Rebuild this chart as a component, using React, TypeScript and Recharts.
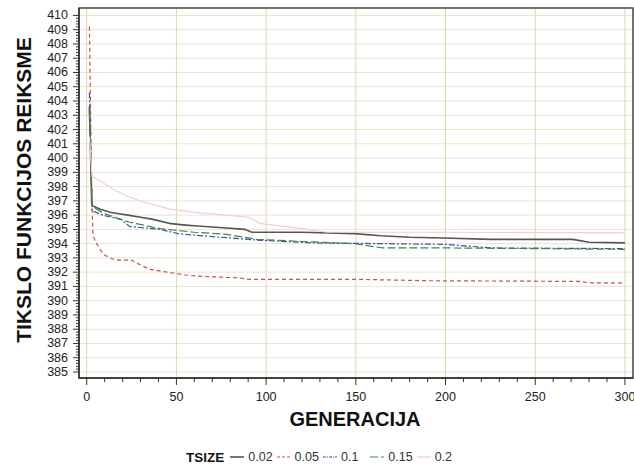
import { LineChart, Line, CartesianGrid, XAxis, YAxis, ReferenceArea } from 'recharts';

// generations / best fitness per tournament size
const gen002 = [1.5, 2.8, 4, 8, 13, 18, 23, 30, 37, 47, 55, 60, 78, 88, 92, 120, 149, 164, 180, 199, 225, 271, 280, 300];
const fit002 = [403.6, 396.7, 396.6, 396.4, 396.2, 396.1, 396.0, 395.85, 395.7, 395.4, 395.3, 395.25, 395.1, 395.0, 394.8, 394.8, 394.7, 394.55, 394.45, 394.4, 394.3, 394.3, 394.1, 394.05];

const gen005 = [1.5, 2.5, 3, 3.5, 5, 6.5, 8, 10, 13, 16, 25, 30, 35, 45, 55, 65, 85, 90, 150, 190, 275, 280, 300];
const fit005 = [409.2, 400, 396.5, 394.6, 394.1, 393.8, 393.5, 393.2, 393.0, 392.85, 392.85, 392.5, 392.2, 392.0, 391.8, 391.7, 391.6, 391.5, 391.5, 391.4, 391.35, 391.25, 391.25];

const gen01 = [1.5, 3, 9, 19, 24, 41, 51, 69, 80, 95, 126, 164, 200, 225, 300];
const fit01 = [404.6, 396.3, 396.0, 395.7, 395.2, 395.0, 394.7, 394.5, 394.4, 394.25, 394.05, 394.0, 393.95, 393.7, 393.65];

const gen015 = [1.5, 3, 9, 19, 24, 41, 60, 78, 95, 120, 149, 165, 200, 300];
const fit015 = [403.3, 396.6, 396.15, 395.7, 395.5, 395.05, 394.8, 394.65, 394.3, 394.15, 394.0, 393.7, 393.7, 393.6];

const gen02 = [1.5, 3, 8, 15, 23, 32, 47, 63, 78, 90, 97, 117, 134, 200, 300];
const fit02 = [401.5, 398.7, 398.35, 397.8, 397.3, 396.9, 396.4, 396.15, 396.0, 395.85, 395.4, 395.1, 394.8, 394.8, 394.75];

const yTicks = Array.from({ length: 126 }, (_, i) => +(385 + i * 0.2).toFixed(1));
const yMajor = Array.from({ length: 26 }, (_, i) => 385 + i);
const xTicks = Array.from({ length: 31 }, (_, i) => i * 10);
const xMajor = [0, 50, 100, 150, 200, 250, 300];

const series = [
    { name: '0.02', gen: gen002, fit: fit002, color: '#555555', dash: undefined, width: 1.6 },
    { name: '0.05', gen: gen005, fit: fit005, color: '#d04a5a', dash: '4 3', width: 1.2 },
    { name: '0.1', gen: gen01, fit: fit01, color: '#4048c0', dash: '6 2 2 2', width: 1.2 },
    { name: '0.15', gen: gen015, fit: fit015, color: '#3c8a3c', dash: '8 3', width: 1.2 },
    { name: '0.2', gen: gen02, fit: fit02, color: '#f4ccd6', dash: undefined, width: 1.2 },
];

const font = '"Liberation Sans", Arial, sans-serif';

const YTick = (props: any) => {
    const { x, y, payload } = props;
    const v = payload.value;
    const major = Math.abs(v - Math.round(v)) < 0.01;
    return (
        <g>
            <line x1={x - (major ? 6 : 3)} x2={x} y1={y} y2={y} stroke="#333" strokeWidth={1} />
            {major && (
                <text x={x - 11} y={y + 4} textAnchor="end" fontSize={12.5} fill="#222" fontFamily={font}>
                    {Math.round(v)}
                </text>
            )}
        </g>
    );
};

const XTick = (props: any) => {
    const { x, y, payload } = props;
    const major = payload.value % 50 === 0;
    return (
        <g>
            <line x1={x} x2={x} y1={y} y2={y + (major ? 7 : 4)} stroke="#333" strokeWidth={1} />
            {major && (
                <text x={x} y={y + 23} textAnchor="middle" fontSize={12.5} fill="#222" fontFamily={font}>
                    {payload.value}
                </text>
            )}
        </g>
    );
};

const LegendSample = ({ color, dash, width }: { color: string, dash?: string, width: number }) => (
    <svg width={14} height={10} style={{ margin: '0 4px 0 4px' }}>
        <line x1={0} x2={14} y1={5} y2={5} stroke={color} strokeWidth={width} strokeDasharray={dash} />
    </svg>
);

export default function App() {
    return (
        <div style={{ position: 'absolute', left: 0, top: 0, width: 634, height: 468, background: '#fff', fontFamily: font }}>
            <LineChart width={634} height={468} margin={{ top: 8, right: 1, left: 0, bottom: 0 }}>
                <CartesianGrid horizontal={true} vertical={false} horizontalValues={yMajor} stroke="#e9e5cc" />
                <CartesianGrid horizontal={false} vertical={true} verticalValues={xMajor} stroke="#dcd7b2" />
                <XAxis
                    type="number"
                    dataKey="g"
                    domain={[-4.3, 304.5]}
                    ticks={xTicks}
                    interval={0}
                    tickLine={false}
                    tickSize={0}
                    tickMargin={0}
                    tick={<XTick />}
                    height={90}
                    axisLine={{ stroke: '#333', strokeWidth: 1.5 }}
                    allowDataOverflow
                />
                <YAxis
                    type="number"
                    domain={[384.58, 410.52]}
                    ticks={yTicks}
                    interval={0}
                    tickLine={false}
                    tickSize={0}
                    tickMargin={0}
                    tick={<YTick />}
                    width={79}
                    axisLine={{ stroke: '#333', strokeWidth: 1.5 }}
                    allowDataOverflow
                />
                <ReferenceArea x1={-4.3} x2={304.5} y1={384.58} y2={410.52} fill="none" stroke="#444" strokeWidth={1.5} ifOverflow="extendDomain" />
                {series.map(s => (
                    <Line
                        key={s.name}
                        data={s.gen.map((g, i) => ({ g, v: s.fit[i] }))}
                        dataKey="v"
                        type="linear"
                        stroke={s.color}
                        strokeWidth={s.width}
                        strokeDasharray={s.dash}
                        dot={false}
                        activeDot={false}
                        isAnimationActive={false}
                    />
                ))}
            </LineChart>
            <div style={{ position: 'absolute', left: 24, top: 190, transform: 'translate(-50%, -50%) rotate(-90deg)', whiteSpace: 'nowrap', fontSize: 21, fontWeight: 'bold', color: '#111' }}>
                TIKSLO FUNKCIJOS REIKSME
            </div>
            <div style={{ position: 'absolute', left: 355, top: 419, transform: 'translate(-50%, -50%)', whiteSpace: 'nowrap', fontSize: 20, fontWeight: 'bold', color: '#111' }}>
                GENERACIJA
            </div>
            <div style={{ position: 'absolute', left: 186, top: 449, height: 16, display: 'flex', alignItems: 'center', whiteSpace: 'nowrap', fontSize: 12.5, color: '#333' }}>
                <span style={{ fontWeight: 'bold', fontSize: 13.5, color: '#111', marginRight: 2 }}>TSIZE</span>
                {series.map(s => (
                    <span key={s.name} style={{ display: 'flex', alignItems: 'center', marginRight: s.name === '0.1' ? 8 : 0 }}>
                        <LegendSample color={s.color} dash={s.name === '0.05' ? '3 2' : s.name === '0.1' ? '3 1 1 1' : s.dash} width={s.width} />
                        {s.name}
                    </span>
                ))}
            </div>
        </div>
    );
}
